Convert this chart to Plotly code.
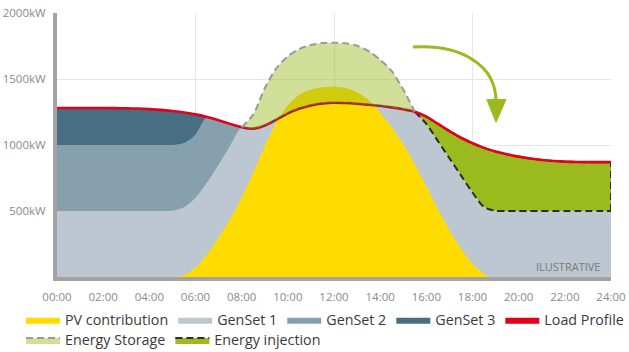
import plotly.graph_objects as go

# Half-hourly time grid, 00:00 .. 24:00 (hours)
hours = [i / 2 for i in range(49)]

# Site load profile (kW) on the half-hour grid
load_kw = [1280, 1280, 1280, 1280, 1280, 1279, 1278, 1276, 1272, 1266,
           1257, 1246, 1232, 1212, 1188, 1160, 1135, 1124, 1148, 1192,
           1240, 1276, 1300, 1314, 1320, 1318, 1313, 1305, 1297, 1285,
           1271, 1252, 1215, 1160, 1105, 1055, 1013, 978, 950, 929,
           912, 898, 887, 879, 874, 871, 870, 870, 870]

# GenSet 1 upper boundary in the morning (00:00 .. 07:30)
genset1_morning = [500, 500, 500, 500, 500, 500, 500, 500, 500, 500,
                   502, 528, 600, 715, 850, 995]

# GenSet 2 upper boundary (00:00 .. 08:00)
genset2_top = [1000, 1000, 1000, 1000, 1000, 1000, 1000, 1000, 1000, 1000,
               1000, 1015, 1080, 1212, 1188, 1160, 1135]

# GenSet 3 runs from midnight until 06:30
genset3_end = 6.5

# Solar PV contribution (kW)
pv_hours = [5.25, 5.5, 6, 6.5, 7, 7.5, 8, 8.5, 9, 9.5, 10, 10.5, 11, 11.5, 12,
            12.5, 13, 13.5, 14, 14.5, 15, 15.5, 16, 16.5, 17, 17.5, 18, 18.5, 18.75]
pv_kw = [0, 15, 70, 170, 300, 440, 600, 790, 990, 1170, 1300, 1380, 1420, 1438, 1442,
         1432, 1400, 1340, 1245, 1135, 1005, 855, 690, 515, 355, 215, 100, 22, 0]

# Energy storage charging envelope (08:00 .. 15:30)
storage_top = [1135, 1230, 1430, 1580, 1672, 1728, 1758, 1772, 1775,
               1770, 1752, 1712, 1645, 1560, 1420, 1252]

# Energy injection floor (15:30 .. 24:00)
injection_floor = [1252, 1160, 1030, 900, 770, 640, 530, 502, 500,
                   500, 500, 500, 500, 500, 500, 500, 500, 500]

y_ticks = [500, 1000, 1500, 2000]
x_ticks = list(range(0, 25, 2))
x_labels = [f"{h:02d}:00" for h in x_ticks]

C_PV = "#ffdc00"
C_G1 = "#bdc7d1"
C_G2 = "#87a0ae"
C_G3 = "#476e82"
C_LOAD = "#e2001a"
C_GREEN = "#9aba1e"
C_STORAGE = "rgba(154,186,30,0.46)"

i_st0 = hours.index(8.0)
i_st1 = hours.index(15.5)
i_g3 = hours.index(genset3_end)

storage_hours = hours[i_st0:i_st1 + 1]
storage_base = load_kw[i_st0:i_st1 + 1]
inj_hours = hours[i_st1:]
inj_top = load_kw[i_st1:]
genset1_top = genset1_morning + load_kw[len(genset1_morning):i_st1] + injection_floor

SM = 0.8
fig = go.Figure()

fig.add_trace(go.Scatter(x=hours[:i_g3 + 1], y=load_kw[:i_g3 + 1], name="GenSet 3",
                         mode="lines", line=dict(width=0, shape="spline", smoothing=SM),
                         fill="tozeroy", fillcolor=C_G3, legendrank=4))
fig.add_trace(go.Scatter(x=hours[:len(genset2_top)], y=genset2_top, name="GenSet 2",
                         mode="lines", line=dict(width=0, shape="spline", smoothing=SM),
                         fill="tozeroy", fillcolor=C_G2, legendrank=3))
fig.add_trace(go.Scatter(x=hours, y=genset1_top, name="GenSet 1",
                         mode="lines", line=dict(width=0, shape="spline", smoothing=SM),
                         fill="tozeroy", fillcolor=C_G1, legendrank=2))
fig.add_trace(go.Scatter(x=pv_hours, y=pv_kw, name="PV contribution",
                         mode="lines", line=dict(width=0, shape="spline", smoothing=SM),
                         fill="tozeroy", fillcolor=C_PV, legendrank=1))

# Energy injection band between its floor and the load curve
fig.add_trace(go.Scatter(x=inj_hours, y=injection_floor, showlegend=False, mode="lines",
                         line=dict(color="#2b2b2b", width=2, dash="7px,4px",
                                   shape="spline", smoothing=SM), legend="legend2"))
fig.add_trace(go.Scatter(x=inj_hours, y=inj_top, name="Energy injection", mode="lines",
                         line=dict(color="#2b2b2b", width=2, dash="7px,4px",
                                   shape="spline", smoothing=SM),
                         fill="tonexty", fillcolor=C_GREEN, legend="legend2", legendrank=7))
fig.add_trace(go.Scatter(x=[inj_hours[-1], inj_hours[-1]], y=[injection_floor[-1], inj_top[-1]],
                         mode="lines", showlegend=False,
                         line=dict(color="#2b2b2b", width=2, dash="7px,4px")))

# Load profile line; its legend entry is shown as a solid swatch
fig.add_trace(go.Scatter(x=hours, y=load_kw, name="Load Profile", mode="lines",
                         line=dict(color=C_LOAD, width=2.6, shape="spline", smoothing=SM),
                         legendgroup="load", showlegend=False))
fig.add_trace(go.Scatter(x=[None], y=[None], name="Load Profile", mode="lines",
                         line=dict(width=0), fill="tozeroy", fillcolor=C_LOAD,
                         legendgroup="load", legendrank=5, hoverinfo="skip"))

# Energy storage envelope above the load
fig.add_trace(go.Scatter(x=storage_hours, y=storage_base, showlegend=False, mode="lines",
                         line=dict(color="#5a4a3a", width=1.6, dash="6px,4px",
                                   shape="spline", smoothing=SM), legend="legend2"))
fig.add_trace(go.Scatter(x=storage_hours, y=storage_top, name="Energy Storage", mode="lines",
                         line=dict(color="#9a9a9a", width=2, dash="7px,4px",
                                   shape="spline", smoothing=SM),
                         fill="tonexty", fillcolor=C_STORAGE, legend="legend2", legendrank=6))

# Curved arrow pointing at the injection period
fig.add_shape(type="path", xref="x", yref="y",
              path="M 15.42,1742 C 17.5,1765 19.02,1606 19.02,1330",
              line=dict(color=C_GREEN, width=3))
fig.add_shape(type="path", xref="x", yref="y",
              path="M 18.62,1345 L 19.45,1345 L 19.02,1172 Z",
              line=dict(color=C_GREEN, width=1), fillcolor=C_GREEN)

fig.add_annotation(text="ILUSTRATIVE", xref="paper", yref="paper", x=1, y=0,
                   xanchor="right", yanchor="bottom", xshift=-9, yshift=1,
                   showarrow=False, font=dict(size=11, color="#7a7a7a"))

AXIS_LINE = "#a3a3a3"
GRID = "#e6e6e6"
LEGEND_FONT = dict(size=14.3, color="#3a3a3a")
fig.update_layout(
    width=629, height=352,
    margin=dict(l=57, r=18, t=13, b=75, autoexpand=False),
    paper_bgcolor="white", plot_bgcolor="white",
    font=dict(family="Open Sans", size=11.5, color="#8a8a8a"),
    xaxis=dict(range=[0, 24], tickvals=x_ticks, ticktext=x_labels, ticks="",
               showgrid=False, zeroline=False, showline=True, linecolor=AXIS_LINE,
               linewidth=4, ticklabelstandoff=6, fixedrange=True,
               minor=dict(tickvals=[0, 6, 12, 18, 24], showgrid=True,
                          gridcolor=GRID, gridwidth=1, ticks="")),
    yaxis=dict(range=[0, 2000], tickvals=y_ticks, ticktext=[f"{v}kW" for v in y_ticks],
               ticks="", showgrid=True, gridcolor=GRID, gridwidth=1, zeroline=False,
               showline=True, linecolor=AXIS_LINE, linewidth=4, ticklabelstandoff=5,
               fixedrange=True),
    legend=dict(orientation="h", x=-0.065, y=-0.163, xanchor="left", yanchor="middle",
                font=LEGEND_FONT, itemwidth=34, traceorder="normal",
                bgcolor="rgba(0,0,0,0)", tracegroupgap=0),
    legend2=dict(orientation="h", x=-0.065, y=-0.239, xanchor="left", yanchor="middle",
                 font=LEGEND_FONT, itemwidth=34, traceorder="normal",
                 bgcolor="rgba(0,0,0,0)", tracegroupgap=0),
    showlegend=True,
)

fig.write_html("out.html")
